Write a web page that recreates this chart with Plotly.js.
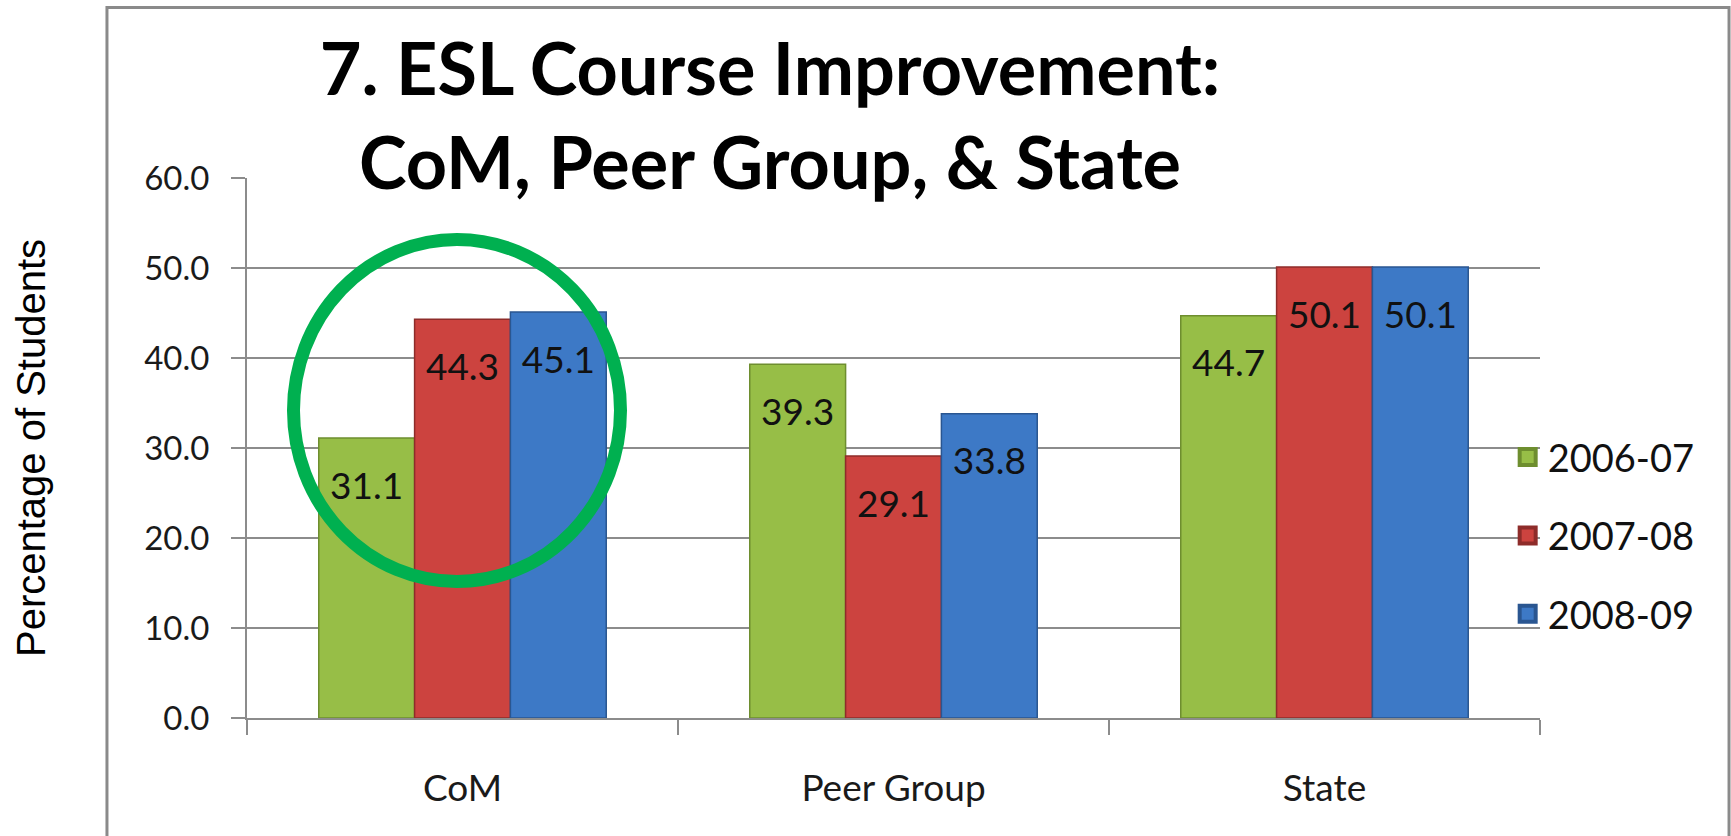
<!DOCTYPE html>
<html><head><meta charset="utf-8">
<script src="https://cdn.plot.ly/plotly-3.0.1.min.js"></script>
<style>html,body{margin:0;padding:0;background:#fff}#chart{width:1731px;height:836px}</style>
</head><body><div id="chart"></div>
<script>
// ---- data ----
const categories = ['CoM', 'Peer Group', 'State'];
const seriesNames = ['2006-07', '2007-08', '2008-09'];
const values0607 = [31.1, 39.3, 44.7];
const values0708 = [44.3, 29.1, 50.1];
const values0809 = [45.1, 33.8, 50.1];
const yTickValues = [0, 10, 20, 30, 40, 50, 60];
const yTickLabels = ['0.0', '10.0', '20.0', '30.0', '40.0', '50.0', '60.0'];
const chartTitle = '7. ESL Course Improvement:<br>CoM, Peer Group, & State';
const yTitle = 'Percentage of Students';

// ---- styles ----
const seriesValues = [values0607, values0708, values0809];
const fillColors = ['#97BE47', '#CC433F', '#3D79C6'];
const edgeColors = ['#6E8E2F', '#8E2C2A', '#2A5691'];
const gridGray = '#8C8C8C';
const textFont = 'Lato, "Open Sans", sans-serif';

const traces = [];
seriesValues.forEach((vals, i) => {
  traces.push({
    type: 'bar', x: categories, y: vals, name: seriesNames[i],
    offsetgroup: 'g' + i, showlegend: false, hoverinfo: 'skip',
    marker: {color: fillColors[i], line: {color: edgeColors[i], width: 1.5}}
  });
});
// value labels, placed in the same offset groups as the bars
seriesValues.forEach((vals, i) => {
  traces.push({
    type: 'scatter', mode: 'markers+text', x: categories, y: vals,
    text: vals.map(v => v.toFixed(1)), textposition: 'bottom center',
    textfont: {family: textFont, size: 37, color: '#111'},
    marker: {size: 51, color: 'rgba(0,0,0,0)', line: {width: 0}},
    offsetgroup: 'g' + i, showlegend: false, hoverinfo: 'skip', cliponaxis: false
  });
});
// legend entries
seriesNames.forEach((n, i) => {
  traces.push({
    type: 'scatter', mode: 'markers', x: [null], y: [null], name: n,
    legendgroup: n, showlegend: true, hoverinfo: 'skip',
    marker: {symbol: 'square', size: 16, color: fillColors[i], line: {color: edgeColors[i], width: 4}}
  });
});

const layout = {
  width: 1731, height: 836,
  margin: {l: 247, r: 191, t: 178, b: 118, autoexpand: false},
  paper_bgcolor: '#fff', plot_bgcolor: 'rgba(0,0,0,0)',
  barmode: 'group', bargap: 0.333, bargroupgap: 0,
  scattermode: 'group', scattergap: 0.333,
  hovermode: false,
  title: {
    text: chartTitle, xref: 'paper', x: 0.4045, xanchor: 'center',
    yref: 'container', y: 0.886, yanchor: 'top',
    font: {family: textFont, size: 72, weight: 700, color: '#000'}
  },
  xaxis: {
    type: 'category', showgrid: false, showline: true, linecolor: gridGray, linewidth: 2,
    ticks: 'outside', tickson: 'boundaries', ticklen: 15, tickwidth: 2, tickcolor: gridGray,
    ticklabelstandoff: 37,
    tickfont: {family: textFont, size: 37, color: '#1a1a1a'}, zeroline: false
  },
  yaxis: {
    range: [0, 60], tickvals: yTickValues, ticktext: yTickLabels,
    showgrid: true, gridcolor: gridGray, gridwidth: 2, zeroline: false,
    showline: true, linecolor: gridGray, linewidth: 2,
    ticks: 'outside', ticklen: 14, tickwidth: 2, tickcolor: gridGray,
    ticklabelstandoff: 15,
    tickfont: {family: textFont, size: 33, color: '#1a1a1a'},
    title: {text: yTitle, standoff: 86, font: {family: '"Liberation Sans", Arial, sans-serif', size: 40, color: '#000'}}
  },
  legend: {
    x: 0.975, xanchor: 'left', y: 0.541, yanchor: 'top',
    font: {family: textFont, size: 38, color: '#111'},
    traceorder: 'grouped', tracegroupgap: 26, bgcolor: 'rgba(0,0,0,0)', borderwidth: 0,
    itemclick: false, itemdoubleclick: false
  },
  shapes: [
    {type: 'rect', xref: 'paper', yref: 'paper', x0: -0.1083, x1: 1.1462, y0: -0.3, y1: 1.3157,
     line: {color: '#8A8A8A', width: 3}, fillcolor: 'rgba(0,0,0,0)', layer: 'below'},
    {type: 'circle', xref: 'paper', yref: 'paper', x0: 0.03596, x1: 0.28886, y0: 0.25278, y1: 0.88611,
     line: {color: '#00B050', width: 13}, fillcolor: 'rgba(0,0,0,0)', layer: 'above'}
  ]
};

Plotly.newPlot('chart', traces, layout, {displayModeBar: false, staticPlot: true});
</script>
</body></html>
